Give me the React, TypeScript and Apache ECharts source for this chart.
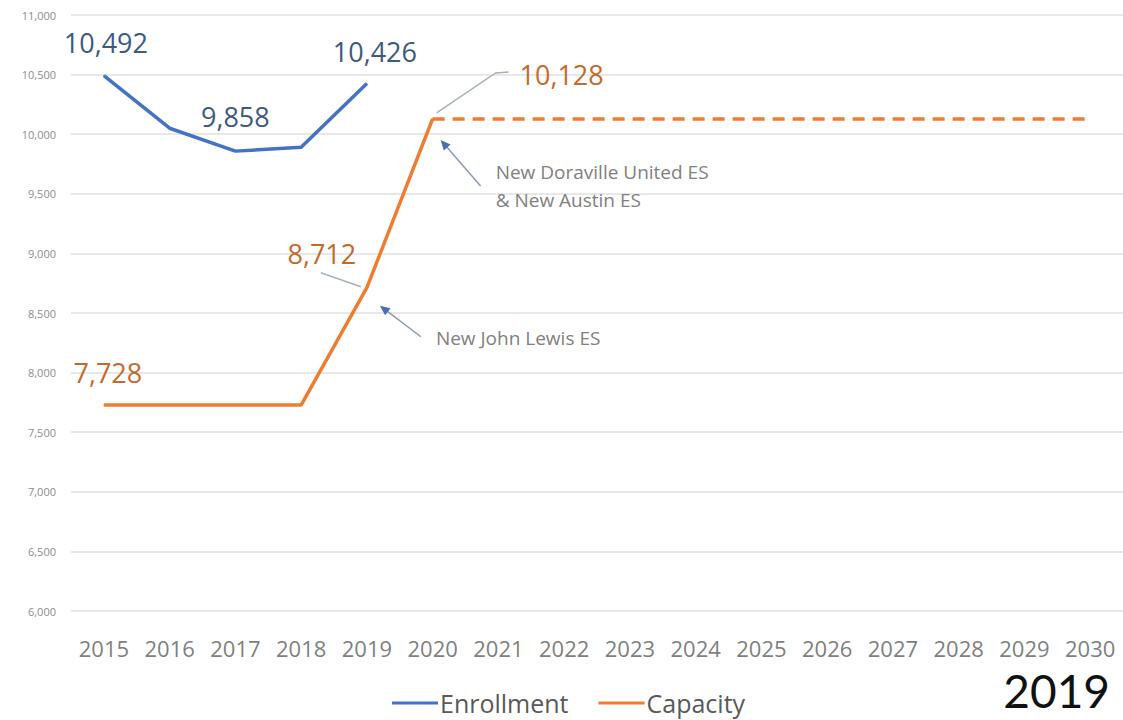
import React, { useEffect, useRef } from "react";
import * as echarts from "echarts";

const years = ["2015","2016","2017","2018","2019","2020","2021","2022","2023","2024","2025","2026","2027","2028","2029","2030"];
const enrollment: (number | null)[] = [10492, 10050, 9858, 9890, 10426, null, null, null, null, null, null, null, null, null, null, null];
const capacityBuilt: (number | null)[] = [7728, 7728, 7728, 7728, 8712, 10128, null, null, null, null, null, null, null, null, null, null];
const capacityPlanned: (number | null)[] = [null, null, null, null, null, 10128, 10128, 10128, 10128, 10128, 10128, 10128, 10128, 10128, 10128, 10128];
const yMin = 6000;
const yMax = 11000;
const yStep = 500;
const legendNames = ["Enrollment", "Capacity"];
const yearStamp = "2019";
const noteDoraville = ["New Doraville United ES", "& New Austin ES"];
const noteJohnLewis = "New John Lewis ES";

const BLUE = "#4472C4";
const ORANGE = "#ED7D31";
const BLUE_TXT = "#3d5a80";
const ORANGE_TXT = "#c46a2b";
const FONT = "Open Sans";

const enrollLabelOffsets: Record<number, [number, number]> = { 0: [2, -33], 2: [0, -35], 4: [8, -32] };
const capLabelOffsets: Record<number, [number, number]> = { 0: [4, -33], 4: [-45, -34], 5: [129, -44] };

function withLabels(arr: (number | null)[], offsets: Record<number, [number, number]>, color: string) {
  return arr.map((v, i) =>
    offsets[i] && v != null
      ? {
          value: v,
          label: {
            show: true,
            position: "inside",
            offset: offsets[i],
            color,
            fontSize: 27,
            fontFamily: FONT,
            formatter: (p: any) => Number(p.value).toLocaleString("en-US"),
          },
        }
      : v
  );
}

export default function App() {
  const ref = useRef<HTMLDivElement>(null);
  useEffect(() => {
    if (!ref.current) return;
    const chart = echarts.init(ref.current, undefined, { renderer: "svg" });
    chart.setOption({
      animation: false,
      backgroundColor: "#ffffff",
      textStyle: { fontFamily: FONT },
      grid: { left: 71, top: 15, width: 1055, height: 596 },
      xAxis: {
        type: "category",
        data: years,
        boundaryGap: true,
        axisLine: { show: false },
        axisTick: { show: false },
        axisLabel: { color: "#7f7f7f", fontSize: 22, margin: 26, fontFamily: FONT },
      },
      yAxis: {
        type: "value",
        min: yMin,
        max: yMax,
        interval: yStep,
        axisLine: { show: false },
        axisTick: { show: false },
        axisLabel: {
          color: "#8c8c8c",
          fontSize: 11,
          margin: 15,
          fontFamily: FONT,
          formatter: (v: number) => v.toLocaleString("en-US"),
        },
        splitLine: { lineStyle: { color: "#e1e1e1", width: 1.5 } },
      },
      legend: {
        data: legendNames,
        left: 387,
        top: 685,
        icon: "rect",
        itemWidth: 46,
        itemHeight: 3,
        itemGap: 30,
        textStyle: { color: "#595959", fontSize: 25, lineHeight: 26, fontFamily: FONT, padding: [0, 0, 0, -3] },
      },
      series: [
        {
          name: legendNames[0],
          type: "line",
          data: withLabels(enrollment, enrollLabelOffsets, BLUE_TXT),
          symbol: "circle",
          symbolSize: 1,
          itemStyle: { color: BLUE },
          lineStyle: { color: BLUE, width: 3.5 },
          connectNulls: false,
        },
        {
          name: legendNames[1],
          type: "line",
          data: withLabels(capacityBuilt, capLabelOffsets, ORANGE_TXT),
          symbol: "circle",
          symbolSize: 1,
          itemStyle: { color: ORANGE },
          lineStyle: { color: ORANGE, width: 3.5 },
        },
        {
          name: legendNames[1],
          type: "line",
          data: capacityPlanned,
          symbol: "none",
          itemStyle: { color: ORANGE },
          lineStyle: { color: ORANGE, width: 3.5, type: [12, 8] },
        },
      ],
    });

    const p20 = chart.convertToPixel({ xAxisIndex: 0, yAxisIndex: 0 }, [years[5], capacityBuilt[5]]) as number[];
    const p19 = chart.convertToPixel({ xAxisIndex: 0, yAxisIndex: 0 }, [years[4], capacityBuilt[4]]) as number[];

    const arrow = (tail: number[], tip: number[]) => {
      const dx = tip[0] - tail[0];
      const dy = tip[1] - tail[1];
      const L = Math.hypot(dx, dy);
      const ux = dx / L, uy = dy / L;
      const nx = -uy, ny = ux;
      const hl = 10, hw = 4.5;
      return [
        {
          type: "line",
          shape: { x1: tail[0], y1: tail[1], x2: tip[0] - ux * 7, y2: tip[1] - uy * 7 },
          style: { stroke: "#8d9ab0", lineWidth: 1.5 },
        },
        {
          type: "polygon",
          shape: {
            points: [
              [tip[0], tip[1]],
              [tip[0] - ux * hl + nx * hw, tip[1] - uy * hl + ny * hw],
              [tip[0] - ux * hl - nx * hw, tip[1] - uy * hl - ny * hw],
            ],
          },
          style: { fill: "#4a6fb0" },
        },
      ];
    };

    const leader = "#a6b0bf";
    chart.setOption({
      graphic: [
        {
          type: "polyline",
          shape: { points: [[p20[0] + 4, p20[1] - 6], [p20[0] + 63, p20[1] - 46], [p20[0] + 76, p20[1] - 47]] },
          style: { stroke: leader, lineWidth: 1.5, fill: "none" },
        },
        {
          type: "line",
          shape: { x1: p19[0] - 6, y1: p19[1] - 1, x2: p19[0] - 46, y2: p19[1] - 15 },
          style: { stroke: leader, lineWidth: 1.5 },
        },
        ...arrow([p20[0] + 48, p20[1] + 67], [p20[0] + 8, p20[1] + 21]),
        ...arrow([p19[0] + 54, p19[1] + 49], [p19[0] + 13, p19[1] + 18]),
        {
          type: "text",
          x: p20[0] + 63,
          y: p20[1] + 39,
          style: {
            text: noteDoraville.join("\n"),
            fill: "#808080",
            fontSize: 19,
            fontFamily: FONT,
            lineHeight: 28,
            verticalAlign: "top",
          },
        },
        {
          type: "text",
          x: p19[0] + 69,
          y: p19[1] + 50,
          style: {
            text: noteJohnLewis,
            fill: "#808080",
            fontSize: 19,
            fontFamily: FONT,
            verticalAlign: "middle",
          },
        },
        {
          type: "text",
          x: 1110,
          y: 690,
          style: {
            text: yearStamp,
            fill: "#111111",
            fontSize: 46,
            fontFamily: "Lato",
            align: "right",
            verticalAlign: "middle",
          },
        },
      ],
    });

    return () => chart.dispose();
  }, []);
  return <div ref={ref} style={{ position: "absolute", left: 0, top: 0, width: 1123, height: 720 }} />;
}
